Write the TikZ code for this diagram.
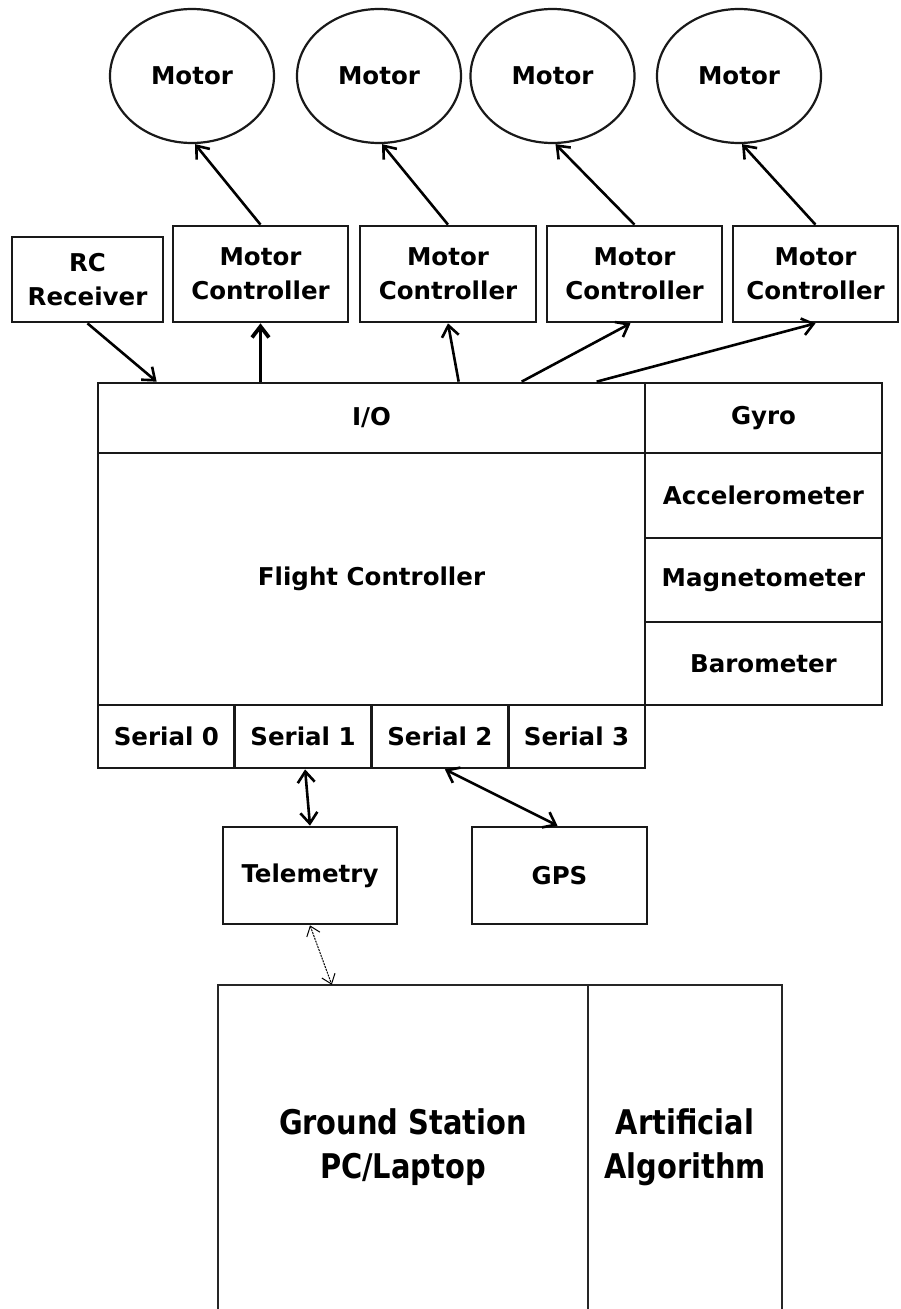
\documentclass[tikz,border=0pt]{standalone}
\usepackage{fontspec}
\setmainfont{DejaVu Sans}
\newfontfamily\gsfont{DejaVu Sans}[FakeStretch=0.85]
\usetikzlibrary{shapes.geometric,arrows.meta,calc}
\tikzset{
  lbl/.style={font=\bfseries\fontsize{24.5}{34}\selectfont, align=center},
  box/.style={lbl, draw=black!90, line width=2.7pt, rectangle, inner sep=0pt},
  motor/.style={lbl, draw=black!90, ellipse, line width=2.2pt, minimum width=164pt, minimum height=134pt, inner sep=0pt},
  conn/.style={line width=2.6pt, -{Straight Barb[length=11pt,width=17pt]}},
  thickconn/.style={line width=3.8pt, -{Straight Barb[length=11pt,width=17pt]}},
  biconn/.style={line width=2.6pt, {Straight Barb[length=11pt,width=17pt]}-{Straight Barb[length=11pt,width=17pt]}},
  thinbi/.style={line width=1pt, dash pattern=on 2pt off 1pt, {Straight Barb[length=9pt,width=14pt]}-{Straight Barb[length=9pt,width=14pt]}},
}
\begin{document}
\begin{tikzpicture}[x=1pt,y=-1pt]
\useasboundingbox (0,0) rectangle (900,1309);
\fill[white] (0,0) rectangle (900,1309);

% motors
\node[motor] (m1) at (192,76) {Motor};
\node[motor] (m2) at (379,76) {Motor};
\node[motor] (m3) at (552.5,76) {Motor};
\node[motor] (m4) at (739,76) {Motor};

% receiver and motor controllers
\node[box, minimum width=151pt, minimum height=85pt] (rc) at (87.5,279.5) {RC\\Receiver};
\node[box, minimum width=175pt, minimum height=96pt] (mc1) at (260.5,274) {Motor\\Controller};
\node[box, minimum width=176pt, minimum height=96pt] (mc2) at (448,274) {Motor\\Controller};
\node[box, minimum width=175pt, minimum height=96pt] (mc3) at (634.5,274) {Motor\\Controller};
\node[box, minimum width=165pt, minimum height=96pt] (mc4) at (815.5,274) {Motor\\Controller};

% flight controller block
\node[box, minimum width=547pt, minimum height=70pt] (io) at (371.5,418) {I/O};
\node[box, minimum width=547pt, minimum height=252pt] (fc) at (371.5,579) {Flight Controller};
\node[box, minimum width=237pt, minimum height=70pt] (gyro) at (763.5,418) {Gyro};
\node[box, minimum width=237pt, minimum height=85pt] (acc) at (763.5,495.5) {Accelerometer};
\node[box, minimum width=237pt, minimum height=84pt] (mag) at (763.5,580) {Magnetometer};
\node[box, minimum width=237pt, minimum height=83pt] (baro) at (763.5,663.5) {Barometer};

\node[box, minimum width=136.75pt, minimum height=63pt] (s0) at (166.4,736.5) {Serial 0};
\node[box, minimum width=136.75pt, minimum height=63pt] (s1) at (303.1,736.5) {Serial 1};
\node[box, minimum width=136.75pt, minimum height=63pt] (s2) at (439.9,736.5) {Serial 2};
\node[box, minimum width=136.75pt, minimum height=63pt] (s3) at (576.6,736.5) {Serial 3};

% peripherals
\node[box, minimum width=174pt, minimum height=97pt] (tel) at (310,875.5) {Telemetry};
\node[box, minimum width=175pt, minimum height=97pt] (gps) at (559.5,875.5) {GPS};

% ground station
\node[lbl, font=\gsfont\bfseries\fontsize{34}{44}\selectfont, minimum width=370pt, minimum height=324pt, inner sep=0pt] (gs) at (403,1147) {Ground Station\\PC/Laptop};
\node[lbl, font=\gsfont\bfseries\fontsize{34}{44}\selectfont, minimum width=194pt, minimum height=324pt, inner sep=0pt] (algo) at (685,1147) {Artificial\\Algorithm};
\draw[line width=2.4pt, draw=black!85] (gs.south west) -- (gs.north west) -- (algo.north east) -- (algo.south east);
\draw[line width=2.4pt, draw=black!85] (algo.north west) -- (algo.south west);

% connectors: controllers to motors
\draw[conn] (mc1.north) -- ($(m1.south)+(3,0)$);
\draw[conn] (mc2.north) -- ($(m2.south)+(3,0)$);
\draw[conn] (mc3.north) -- ($(m3.south)+(3,0)$);
\draw[conn] (mc4.north) -- ($(m4.south)+(3,0)$);

% connectors: receiver and I/O
\draw[conn] (rc.south) -- ($(io.north west)+(60,0)$);
\draw[thickconn] (mc1.south |- io.north) -- (mc1.south);
\draw[conn] ($(io.north west)+(362,0)$) -- (mc2.south);
\draw[conn] ($(io.north west)+(425,0)$) -- ($(mc3.south)+(-4,0)$);
\draw[conn] ($(io.north west)+(500,0)$) -- (mc4.south);

% serial links
\draw[biconn] ($(s1.south)+(2,0)$) -- (tel.north);
\draw[biconn] ($(s2.south)+(5,0)$) -- ($(gps.north)+(-2,0)$);
\draw[thinbi] (tel.south) -- ($(gs.north west)+(114,0)$);
\end{tikzpicture}
\end{document}
